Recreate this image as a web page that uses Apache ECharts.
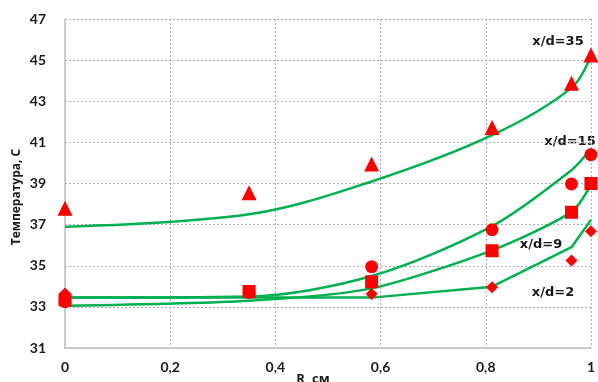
<!DOCTYPE html>
<html>
<head>
<meta charset="utf-8">
<script src="https://cdn.jsdelivr.net/npm/echarts@6/dist/echarts.min.js"></script>
<style>
  html, body { margin: 0; padding: 0; background: #ffffff; }
  #chart { width: 598px; height: 382px; }
</style>
</head>
<body>
<div id="chart"></div>
<script>
// Radial positions, cm
const radius = [0, 0.35, 0.583, 0.812, 0.963, 1.0];

// Measured temperatures, °C
const measured35 = [37.8, 38.55, 39.95, 41.72, 43.87, 45.25];
const measured15 = [33.25, 33.7, 34.95, 36.75, 38.98, 40.4];
const measured9  = [33.35, 33.75, 34.22, 35.73, 37.6, 39.0];
const measured2  = [33.65, 33.7, 33.63, 33.95, 35.25, 36.68];

// Calculated profiles, °C
const calc35 = [36.9, 37.5, 39.1, 41.35, 43.65, 45.2];
const calc15 = [33.45, 33.5, 34.5, 36.93, 39.65, 40.7];
const calc9  = [33.05, 33.3, 33.9, 35.75, 37.62, 38.95];
const calc2  = [33.45, 33.45, 33.45, 33.98, 35.9, 37.23];

// Curve labels
const curveLabels = ['x/d=35', 'x/d=15', 'x/d=9', 'x/d=2'];

const xTicks = { min: 0, max: 1, step: 0.2 };
const yTicks = { min: 31, max: 47, step: 2 };

const pairs = vals => radius.map((r, i) => [r, vals[i]]);

const GREEN = '#00b050';
const RED = '#ff0000';

function lineSeries(vals, smooth) {
  return {
    type: 'line',
    data: pairs(vals),
    smooth: smooth,
    showSymbol: false,
    symbol: 'none',
    lineStyle: { color: GREEN, width: 2.5 },
    z: 2,
    silent: true
  };
}
function markerSeries(vals, symbol, size) {
  return {
    type: 'scatter',
    data: pairs(vals),
    symbol: symbol,
    symbolSize: size,
    itemStyle: { color: RED, opacity: 1 },
    z: 5,
    silent: true
  };
}

const chart = echarts.init(document.getElementById('chart'), null, { renderer: 'canvas' });

const labelFont = { fontFamily: 'Lato', fontWeight: 'bold', fontSize: 14, color: '#1a1a1a' };
const gridLine = { show: true, lineStyle: { color: '#b0b0b0', type: [2, 2], width: 1 } };
const curveText = (text, x, y) => ({
  type: 'text', position: [x, y],
  style: { text: text, font: 'bold 13px "DejaVu Sans"', fill: '#1a1a1a', textAlign: 'center', textVerticalAlign: 'middle' }
});

chart.setOption({
  animation: false,
  backgroundColor: '#ffffff',
  grid: { left: 65, right: 5, top: 19, bottom: 34, containLabel: false },
  xAxis: {
    type: 'value',
    min: xTicks.min, max: xTicks.max, interval: xTicks.step,
    axisLine: { show: true, lineStyle: { color: '#bfbfbf', width: 1.5 } },
    axisTick: { show: false },
    splitLine: gridLine,
    axisLabel: Object.assign({
      margin: 12,
      formatter: v => String(Math.round(v * 10) / 10).replace('.', ',')
    }, labelFont)
  },
  yAxis: {
    type: 'value',
    min: yTicks.min, max: yTicks.max, interval: yTicks.step,
    axisLine: { show: true, lineStyle: { color: '#bfbfbf', width: 1.5 } },
    axisTick: { show: false },
    splitLine: gridLine,
    axisLabel: Object.assign({ margin: 19 }, labelFont)
  },
  graphic: [
    {
      type: 'text', position: [17, 197], rotation: Math.PI / 2,
      style: {
        text: 'Температура, С',
        font: 'bold 12px "Open Sans"', fill: '#1a1a1a',
        textAlign: 'center', textVerticalAlign: 'middle'
      }
    },
    {
      type: 'text', position: [313, 379],
      style: {
        text: 'R, см', font: 'bold 13px "Open Sans"', fill: '#1a1a1a',
        textAlign: 'center', textVerticalAlign: 'middle'
      }
    },
    curveText(curveLabels[0], 558, 42),
    curveText(curveLabels[1], 570, 142),
    curveText(curveLabels[2], 541, 245),
    curveText(curveLabels[3], 553, 293)
  ],
  series: [
    lineSeries(calc35, 0.35),
    lineSeries(calc15, 0.3),
    lineSeries(calc9, 0.25),
    lineSeries(calc2, false),
    markerSeries(measured35, 'triangle', 15),
    markerSeries(measured15, 'circle', 13),
    markerSeries(measured9, 'rect', 13),
    markerSeries(measured2, 'diamond', 12)
  ]
});
</script>
</body>
</html>
